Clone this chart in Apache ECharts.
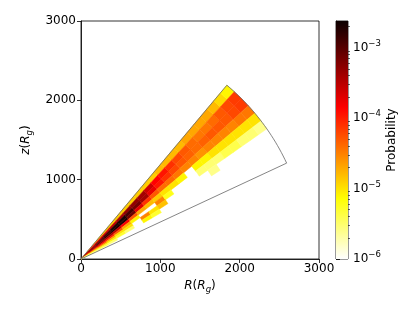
<!DOCTYPE html>
<html><head><meta charset="utf-8">
<script src="https://cdn.jsdelivr.net/npm/echarts@6/dist/echarts.min.js"></script>
<style>html,body{margin:0;padding:0;background:#fff}#c{width:415px;height:312px}</style>
</head><body><div id="c"></div>
<script>
// ---- data ----
// radial bin edges (R_g) and polar-angle bin edges (degrees from the z axis)
const rEdges = [0,130,260,390,520,650,780,910,1040,1170,1300,1430,1560,1690,1820,1950,2080,2210,2340,2470,2600,2730,2860];
const thetaEdges = [40,42.5,45,47.5,50,52.5,55,57.5,60,62.5,65];
// probability per radial bin, one list per angular bin (0 = empty)
const pTheta40 = [3e-5,2e-5,1.3e-5,1.3e-5,1.3e-5,1.3e-5,1.3e-5,1.3e-5,1.3e-5,1.3e-5,1.3e-5,1.6e-5,1.6e-5,1.6e-5,1.6e-5,2e-5,2e-5,2e-5,2e-5,1.6e-5,1.1e-5,8e-6];
const pTheta42 = [1e-4,1.5e-4,2e-4,2.5e-4,3e-4,4e-4,5e-4,5e-4,4e-4,2.5e-4,1.4e-4,1.1e-4,8e-5,6e-5,5e-5,4e-5,3.5e-5,3.5e-5,4e-5,5e-5,6e-5,7e-5];
const pTheta45 = [3e-4,5e-4,8e-4,1.2e-3,1.8e-3,2e-3,1.2e-3,7e-4,4e-4,1.8e-4,1.1e-4,8e-5,6e-5,5e-5,4.5e-5,4e-5,4.5e-5,5e-5,5e-5,5e-5,6e-5,7e-5];
const pTheta47 = [4e-4,6e-4,1e-3,1.5e-3,2e-3,2e-3,8e-4,2e-4,8e-5,5e-5,4e-5,4e-5,3.5e-5,3e-5,3e-5,2.5e-5,3e-5,3e-5,3e-5,3e-5,3.5e-5,3.5e-5];
const pTheta50 = [2e-4,4e-4,5e-4,4e-4,3e-4,1.5e-4,5e-5,2e-5,1.6e-5,1.3e-5,1e-5,1e-5,8e-6,0,8e-6,8e-6,1e-5,1e-5,1e-5,1e-5,1e-5,1e-5];
const pTheta52 = [5e-5,1e-4,1.5e-4,1e-4,5e-5,2e-5,8e-6,0,0,3e-5,6e-6,0,0,0,3e-6,3e-6,3e-6,4e-6,4e-6,3e-6,3e-6,2.5e-6];
const pTheta55 = [2e-5,3e-5,4e-5,2e-5,1e-5,1e-5,0,3e-5,1e-5,1.5e-5,0,0,0,0,0,2.5e-6,0,0,0,0,0,0];
const pTheta57 = [8e-6,1e-5,1e-5,8e-6,5e-6,3e-6,0,8e-6,5e-6,0,0,0,0,0,0,0,0,0,0,0,0,0];
const pTheta60 = [3e-6,4e-6,4e-6,3e-6,0,0,0,0,0,0,0,0,0,0,0,0,0,0,0,0,0,0];
const pTheta62 = [2e-6,2e-6,0,0,0,0,0,0,0,0,0,0,0,0,0,0,0,0,0,0,0,0];
const probByTheta = [pTheta40,pTheta42,pTheta45,pTheta47,pTheta50,pTheta52,pTheta55,pTheta57,pTheta60,pTheta62];
// axis ticks
const axisTicks = [0,1000,2000,3000];
const cbarTicks = [-6,-5,-4,-3];      // log10 of probability
const cbarMin = 1e-6, cbarMax = 2.38e-3;
// wedge outline
const wedgeR = 2860;

// ---- helpers ----
const LOG_MIN = Math.log10(cbarMin), LOG_MAX = Math.log10(cbarMax);
function hotR(t){
  t = Math.min(1, Math.max(0, t)); const s = 1 - t;
  const r = s < 0.365079 ? 0.0416 + (1-0.0416)*s/0.365079 : 1;
  const g = Math.min(1, Math.max(0, (s-0.365079)/(0.746032-0.365079)));
  const b = Math.min(1, Math.max(0, (s-0.746032)/(1-0.746032)));
  return 'rgb(' + Math.round(r*255) + ',' + Math.round(g*255) + ',' + Math.round(b*255) + ')';
}
const D2R = Math.PI/180;
const cellData = [];
probByTheta.forEach((arr, ti) => arr.forEach((v, ri) => { if (v > 0) cellData.push([ri, ti, v]); }));

const outline = [[0,0]];
for (let k = 0; k <= 50; k++) {
  const th = (thetaEdges[0] + (thetaEdges[thetaEdges.length-1]-thetaEdges[0])*k/50) * D2R;
  outline.push([wedgeR*Math.sin(th), wedgeR*Math.cos(th)]);
}
outline.push([0,0]);

const minorTicks = [];
for (let n = -6; n <= -3; n++) for (let k = 2; k <= 9; k++) { const v = n + Math.log10(k); if (v <= LOG_MAX) minorTicks.push(v); }

const FONT = 'DejaVu Sans';
const FS = 12;
const nameRich = {
  i: {fontFamily: FONT, fontSize: FS, fontStyle: 'italic', color: '#000', lineHeight: 17},
  n: {fontFamily: FONT, fontSize: FS, color: '#000', lineHeight: 17},
  sub: {fontFamily: FONT, fontSize: 8.5, fontStyle: 'italic', color: '#000', lineHeight: 9, verticalAlign: 'bottom'}
};

const chart = echarts.init(document.getElementById('c'), null, {renderer: 'canvas'});
chart.setOption({
  animation: false,
  backgroundColor: '#fff',
  grid: [
    {left: 81, top: 21, width: 238, height: 238, show: true, borderColor: '#000', borderWidth: 0.8, backgroundColor: 'transparent'},
    {left: 336, top: 21, width: 12, height: 238, show: true, borderColor: '#000', borderWidth: 0.8, backgroundColor: 'transparent'}
  ],
  xAxis: [
    {gridIndex: 0, type: 'value', min: 0, max: 3000, interval: 1000,
     axisLine: {show: true, onZero: false, lineStyle: {color: '#000', width: 0.8}},
     axisTick: {show: true, length: 4, lineStyle: {color: '#000', width: 0.8}},
     axisLabel: {fontFamily: FONT, fontSize: FS, color: '#000', margin: 4, customValues: axisTicks, formatter: v => String(v)},
     splitLine: {show: false},
     name: '{i|R}{n|(}{i|R}{sub|g}{n|)}', nameLocation: 'middle', nameGap: 18,
     nameTextStyle: {rich: nameRich}},
    {gridIndex: 1, type: 'value', min: 0, max: 1, show: false}
  ],
  yAxis: [
    {gridIndex: 0, type: 'value', min: 0, max: 3000, interval: 1000,
     axisLine: {show: true, onZero: false, lineStyle: {color: '#000', width: 0.8}},
     axisTick: {show: true, length: 4, lineStyle: {color: '#000', width: 0.8}},
     axisLabel: {fontFamily: FONT, fontSize: FS, color: '#000', margin: 5, customValues: axisTicks, formatter: v => String(v)},
     splitLine: {show: false},
     name: '{i|z}{n|(}{i|R}{sub|g}{n|)}', nameLocation: 'middle', nameGap: 38, nameRotate: 90,
     nameTextStyle: {rich: nameRich}},
    {gridIndex: 1, type: 'value', min: LOG_MIN, max: LOG_MAX, position: 'right',
     axisLine: {show: true, lineStyle: {color: '#000', width: 0.8}},
     axisTick: {show: true, length: 4, customValues: cbarTicks, lineStyle: {color: '#000', width: 0.8}},
     axisLabel: {customValues: cbarTicks, margin: 5,
       formatter: v => '{b|10}{s|\u2212' + Math.round(-v) + '}',
       rich: {b: {fontFamily: FONT, fontSize: FS, color: '#000', lineHeight: 17},
              s: {fontFamily: FONT, fontSize: 8.5, color: '#000', lineHeight: 9, verticalAlign: 'top'}}},
     splitLine: {show: false},
     name: 'Probability', nameLocation: 'middle', nameGap: 38, nameRotate: 90,
     nameTextStyle: {fontFamily: FONT, fontSize: FS, color: '#000'}},
    {gridIndex: 1, type: 'value', min: LOG_MIN, max: LOG_MAX, position: 'right',
     axisLine: {show: false}, axisLabel: {show: false}, splitLine: {show: false},
     axisTick: {show: true, length: 2, customValues: minorTicks, lineStyle: {color: '#000', width: 0.6}}}
  ],
  series: [
    {type: 'custom', xAxisIndex: 0, yAxisIndex: 0, data: cellData, silent: true, z: 2,
     renderItem: (params, api) => {
       const ri = api.value(0), ti = api.value(1), v = api.value(2);
       const r0 = rEdges[ri], r1 = rEdges[ri+1];
       const t0 = thetaEdges[ti]*D2R, t1 = thetaEdges[ti+1]*D2R;
       const pts = []; const N = 4;
       for (let k = 0; k <= N; k++) { const t = t0 + (t1-t0)*k/N; pts.push(api.coord([r1*Math.sin(t), r1*Math.cos(t)])); }
       for (let k = N; k >= 0; k--) { const t = t0 + (t1-t0)*k/N; pts.push(api.coord([r0*Math.sin(t), r0*Math.cos(t)])); }
       const col = hotR((Math.log10(v) - LOG_MIN)/(LOG_MAX - LOG_MIN));
       return {type: 'polygon', shape: {points: pts}, style: {fill: col, stroke: col, lineWidth: 0.5}};
     }},
    {type: 'line', xAxisIndex: 0, yAxisIndex: 0, data: outline, symbol: 'none', silent: true, z: 3,
     lineStyle: {color: '#666', width: 0.8}},
    {type: 'custom', xAxisIndex: 1, yAxisIndex: 1, data: [[0]], silent: true, z: 1,
     renderItem: (params, api) => {
       const p0 = api.coord([0, LOG_MAX]), p1 = api.coord([1, LOG_MIN]);
       const stops = [];
       for (let i = 0; i <= 64; i++) stops.push({offset: i/64, color: hotR(1 - i/64)});
       return {type: 'rect', shape: {x: p0[0], y: p0[1], width: p1[0]-p0[0], height: p1[1]-p0[1]},
               style: {fill: new echarts.graphic.LinearGradient(0, 0, 0, 1, stops)}};
     }}
  ]
});
</script></body></html>
